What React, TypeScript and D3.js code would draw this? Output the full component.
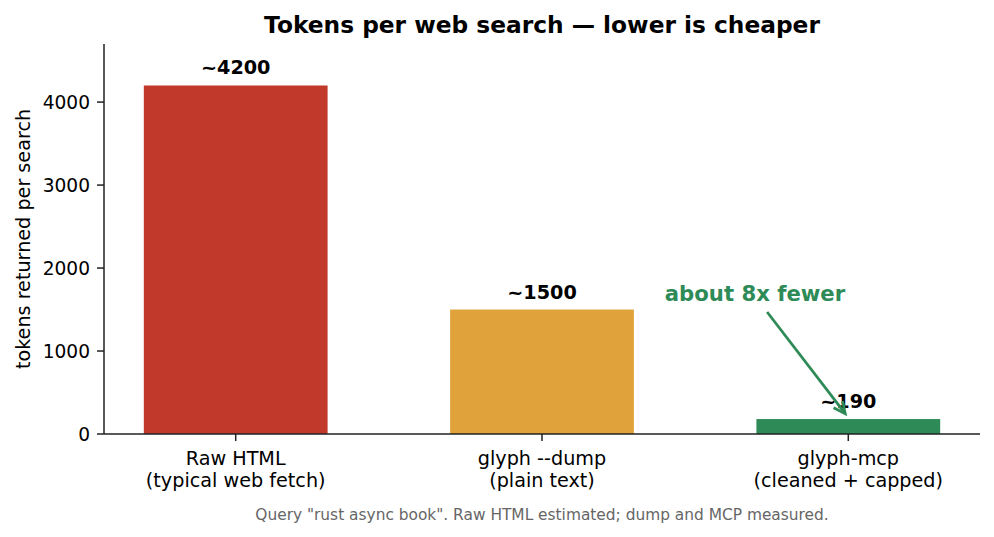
import React from "react";
import * as d3 from "d3";

const categories = ["Raw HTML\n(typical web fetch)", "glyph --dump\n(plain text)", "glyph-mcp\n(cleaned + capped)"];
const values = [4200, 1500, 180];
const valueLabels = ["~4200", "~1500", "~190"];
const colors = ["#c0392b", "#e0a23b", "#2e8b57"];
const yTicks = [0, 1000, 2000, 3000, 4000];

const W = 994, H = 537;
const M = { left: 104, right: 980, top: 44, bottom: 434 };
const font = "DejaVu Sans, sans-serif";

export default function App() {
  const x = d3.scaleLinear().domain([-0.43, 2.43]).range([M.left, M.right]);
  const y = d3.scaleLinear().domain([0, 4700]).range([M.bottom, M.top]);
  const bw = x(0.3) - x(-0.3);
  const ax0 = x(1.735), ay0 = y(1470);
  const ax1 = x(1.99), ay1 = y(245);
  const ang = Math.atan2(ay1 - ay0, ax1 - ax0);
  const hl = 13, ha = 0.45;
  const h1x = ax1 - hl * Math.cos(ang - ha), h1y = ay1 - hl * Math.sin(ang - ha);
  const h2x = ax1 - hl * Math.cos(ang + ha), h2y = ay1 - hl * Math.sin(ang + ha);
  return (
    <svg width={W} height={H} style={{ position: "absolute", left: 0, top: 0 }} fontFamily={font}>
      <rect width={W} height={H} fill="#fff" />
      <text x={(M.left + M.right) / 2} y={33} textAnchor="middle" fontSize={23.3} fontWeight="bold">Tokens per web search — lower is cheaper</text>
      {values.map((v, i) => (
        <g key={i}>
          <rect x={x(i) - bw / 2} y={y(v)} width={bw} height={y(0) - y(v)} fill={colors[i]} />
          <text x={x(i)} y={y(v) - 11} textAnchor="middle" fontSize={19.2} fontWeight="bold">{valueLabels[i]}</text>
        </g>
      ))}
      <line x1={M.left} x2={M.left} y1={M.top} y2={M.bottom} stroke="#222" strokeWidth={1.5} />
      <line x1={M.left} x2={M.right} y1={M.bottom} y2={M.bottom} stroke="#222" strokeWidth={1.5} />
      {yTicks.map(t => (
        <g key={t}>
          <line x1={M.left - 7} x2={M.left} y1={y(t)} y2={y(t)} stroke="#222" strokeWidth={1.5} />
          <text x={M.left - 14} y={y(t)} dy="0.36em" textAnchor="end" fontSize={18.6}>{t}</text>
        </g>
      ))}
      {categories.map((c, i) => (
        <g key={i}>
          <line x1={x(i)} x2={x(i)} y1={M.bottom} y2={M.bottom + 7} stroke="#222" strokeWidth={1.5} />
          {c.split("\n").map((ln, j) => (
            <text key={j} x={x(i)} y={464.5 + j * 22.6} textAnchor="middle" fontSize={19.2}>{ln}</text>
          ))}
        </g>
      ))}
      <text transform={`translate(30,${(M.top + M.bottom) / 2}) rotate(-90)`} textAnchor="middle" fontSize={19.2}>tokens returned per search</text>
      <text x={(M.left + M.right) / 2} y={520} textAnchor="middle" fontSize={15.4} fill="#666">Query "rust async book". Raw HTML estimated; dump and MCP measured.</text>
      <text x={755} y={301} textAnchor="middle" fontSize={21.2} fontWeight="bold" fill="#2e8b57">about 8x fewer</text>
      <line x1={ax0} y1={ay0} x2={ax1} y2={ay1} stroke="#2e8b57" strokeWidth={2.8} />
      <path d={`M${h1x},${h1y} L${ax1},${ay1} L${h2x},${h2y}`} fill="none" stroke="#2e8b57" strokeWidth={2.8} />
    </svg>
  );
}
